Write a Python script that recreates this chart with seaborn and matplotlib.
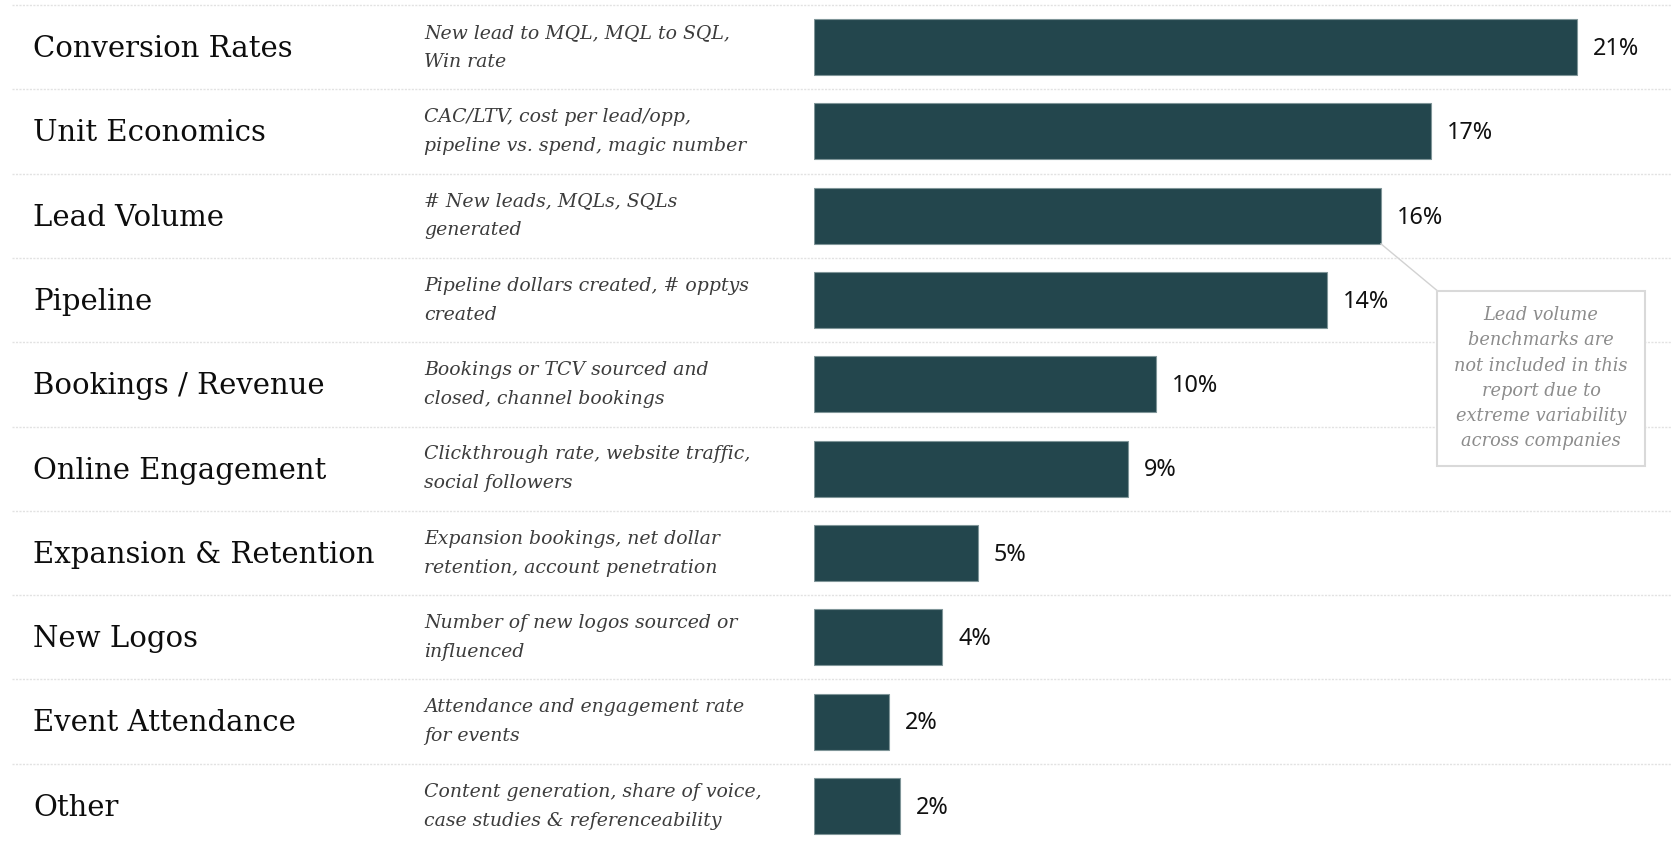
import matplotlib
matplotlib.use("Agg")
import matplotlib.pyplot as plt
from matplotlib.patches import Rectangle, ConnectionPatch
import matplotlib.transforms as mtransforms
import seaborn as sns
import pandas as pd

# ---- data -------------------------------------------------------------
metrics = [
    "Conversion Rates",
    "Unit Economics",
    "Lead Volume",
    "Pipeline",
    "Bookings / Revenue",
    "Online Engagement",
    "Expansion & Retention",
    "New Logos",
    "Event Attendance",
    "Other",
]
descriptions = [
    ("New lead to MQL, MQL to SQL,", "Win rate"),
    ("CAC/LTV, cost per lead/opp,", "pipeline vs. spend, magic number"),
    ("# New leads, MQLs, SQLs", "generated"),
    ("Pipeline dollars created, # opptys", "created"),
    ("Bookings or TCV sourced and", "closed, channel bookings"),
    ("Clickthrough rate, website traffic,", "social followers"),
    ("Expansion bookings, net dollar", "retention, account penetration"),
    ("Number of new logos sourced or", "influenced"),
    ("Attendance and engagement rate", "for events"),
    ("Content generation, share of voice,", "case studies & referenceability"),
]
share_pct = [21.4, 17.3, 15.9, 14.4, 9.6, 8.8, 4.6, 3.6, 2.1, 2.4]
callout_lines = [
    "Lead volume",
    "benchmarks are",
    "not included in this",
    "report due to",
    "extreme variability",
    "across companies",
]
callout_metric = "Lead Volume"

# ---- style ------------------------------------------------------------
sns.set_theme(style="white")
BAR_COLOR = "#23464d"
RULE_COLOR = "#e2e2e2"
SERIF = ["DejaVu Serif"]
SANS = ["Noto Sans", "DejaVu Sans"]

W, H = 1671, 848
fig = plt.figure(figsize=(W / 100, H / 100), dpi=100)
fig.patch.set_facecolor("white")

# bar panel occupies the right-hand part of the canvas
bar_left_px = 814
px_per_pct = 35.65
ax = fig.add_axes([bar_left_px / W, 0, (W - bar_left_px) / W, (H - 5) / H])
ax.set_facecolor("none")

df = pd.DataFrame({"metric": metrics, "share": share_pct})
BAR_H = 0.664
sns.barplot(
    data=df, x="share", y="metric", orient="h", color=BAR_COLOR,
    saturation=1, width=BAR_H, edgecolor="#7f9598", linewidth=0.8, ax=ax,
)
ax.set_xlim(0, (W - bar_left_px) / px_per_pct)
ax.set_ylim(len(metrics) - 0.5, -0.5)
ax.set_axis_off()

# value labels
for i, v in enumerate(share_pct):
    ax.annotate(f"{v:.0f}%", xy=(v, i), xytext=(11.5, -1.3),
                textcoords="offset points", va="center", ha="left",
                fontsize=16.8, family=SANS, color="#111111")

# row text and dotted separators (x in figure fraction, y in row units)
row_tf = mtransforms.blended_transform_factory(fig.transFigure, ax.transData)
for i, (name, (d1, d2)) in enumerate(zip(metrics, descriptions)):
    ax.annotate(name, xy=(33 / W, i), xycoords=row_tf, xytext=(0, -1.4),
                textcoords="offset points", va="center", ha="left",
                fontsize=21, family=SERIF, color="#0d0d0d")
    ax.annotate(d1, xy=(424 / W, i), xycoords=row_tf, xytext=(0, 10.2),
                textcoords="offset points", va="center", ha="left",
                fontsize=13.6, family=SERIF, style="italic", color="#3c3c3c")
    ax.annotate(d2, xy=(424 / W, i), xycoords=row_tf, xytext=(0, -10.6),
                textcoords="offset points", va="center", ha="left",
                fontsize=13.6, family=SERIF, style="italic", color="#3c3c3c")
    ax.plot([12 / W, 1.0], [i - 0.5, i - 0.5], transform=row_tf,
            color=RULE_COLOR, lw=1.0, ls=(0, (1.5, 1.0)), clip_on=False,
            zorder=0)

# callout box for the lead volume note
bx0, bx1, by_top, by_bot = 1437.3, 1645, 290.7, 465.7
box = Rectangle((bx0 / W, (H - by_bot) / H), (bx1 - bx0) / W,
                (by_bot - by_top) / H, transform=fig.transFigure,
                facecolor="white", edgecolor="#d9d9d9", lw=1.5, zorder=2)
fig.patches.append(box)
k = metrics.index(callout_metric)
leader = ConnectionPatch(xyA=(share_pct[k], k + BAR_H / 2), coordsA=ax.transData,
                         xyB=(bx0 / W, (H - by_top) / H), coordsB=fig.transFigure,
                         color="#d2d2d2", lw=1.0, zorder=1)
fig.add_artist(leader)
for j, line in enumerate(callout_lines):
    fig.text((bx0 + bx1) / 2 / W, (H - (315 + 25.3 * j)) / H, line,
             ha="center", va="center", fontsize=12.8, family=SERIF,
             style="italic", color="#8c8c8c", zorder=3)

fig.savefig("out.png", dpi=100, facecolor="white")
